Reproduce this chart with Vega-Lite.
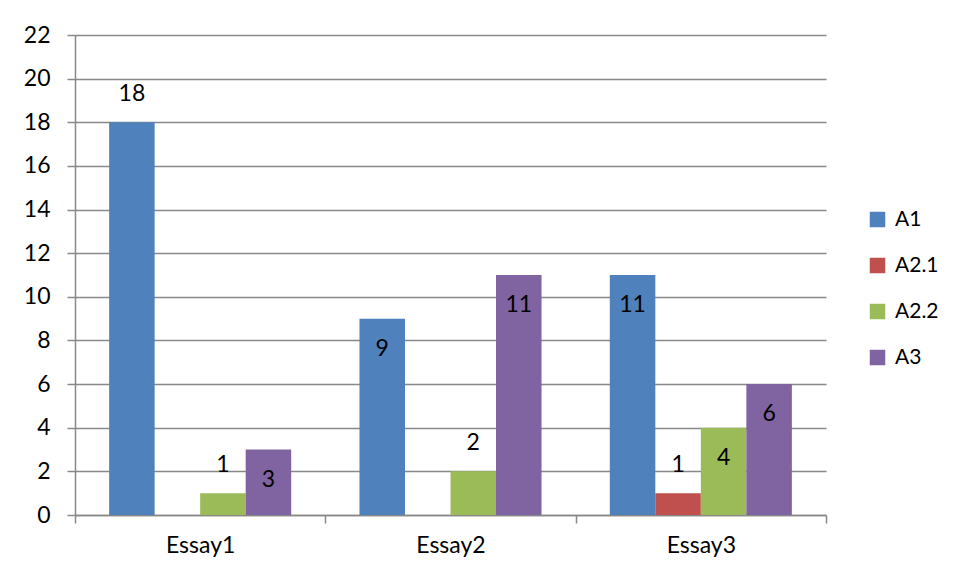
{
  "$schema": "https://vega.github.io/schema/vega-lite/v6.json",
  "width": 751,
  "height": 480,
  "autosize": {"type": "none"},
  "padding": {"left": 75, "top": 35, "right": 129, "bottom": 63},
  "background": "white",
  "data": {
    "values": [
      {"essay": "Essay1", "series": "A1", "value": 18},
      {"essay": "Essay1", "series": "A2.2", "value": 1},
      {"essay": "Essay1", "series": "A3", "value": 3},
      {"essay": "Essay2", "series": "A1", "value": 9},
      {"essay": "Essay2", "series": "A2.2", "value": 2},
      {"essay": "Essay2", "series": "A3", "value": 11},
      {"essay": "Essay3", "series": "A1", "value": 11},
      {"essay": "Essay3", "series": "A2.1", "value": 1},
      {"essay": "Essay3", "series": "A2.2", "value": 4},
      {"essay": "Essay3", "series": "A3", "value": 6}
    ]
  },
  "encoding": {
    "x": {
      "field": "essay",
      "type": "nominal",
      "scale": {"paddingInner": 0, "paddingOuter": 0},
      "axis": {
        "title": null,
        "labelAngle": 0,
        "labelFont": "Lato",
        "labelFontSize": 23,
        "labelColor": "#000000",
        "labelPadding": 11,
        "domainColor": "#888888",
        "domainWidth": 1.5,
        "tickColor": "#888888",
        "tickWidth": 1.5,
        "tickSize": 8,
        "tickBand": "extent",
        "grid": false
      }
    },
    "xOffset": {
      "field": "series",
      "type": "nominal",
      "scale": {"domain": ["A1", "A2.1", "A2.2", "A3"], "paddingInner": 0, "paddingOuter": 0.75}
    },
    "y": {
      "field": "value",
      "type": "quantitative",
      "scale": {"domain": [0, 22], "nice": false},
      "axis": {
        "title": null,
        "values": [0, 2, 4, 6, 8, 10, 12, 14, 16, 18, 20, 22],
        "labelFont": "Lato",
        "labelFontSize": 23,
        "labelColor": "#000000",
        "labelPadding": 17,
        "domainColor": "#888888",
        "domainWidth": 1.5,
        "tickColor": "#888888",
        "tickWidth": 1.5,
        "tickSize": 8,
        "grid": true,
        "gridColor": "#888888",
        "gridWidth": 1.5
      }
    }
  },
  "layer": [
    {
      "mark": {"type": "bar"},
      "encoding": {
        "color": {
          "field": "series",
          "type": "nominal",
          "scale": {
            "domain": ["A1", "A2.1", "A2.2", "A3"],
            "range": ["#4F81BD", "#C0504D", "#9BBB59", "#8064A2"]
          },
          "legend": {
            "title": null,
            "orient": "none",
            "legendX": 792,
            "legendY": 174,
            "symbolType": "square",
            "symbolSize": 240,
            "symbolStrokeWidth": 0,
            "symbolOpacity": 1,
            "labelFont": "Lato",
            "labelFontSize": 21,
            "labelColor": "#000000",
            "labelOffset": 7,
            "rowPadding": 24
          }
        }
      }
    },
    {
      "transform": [{"filter": "datum.value <= 2 || datum.value >= 18"}],
      "mark": {"type": "text", "font": "Lato", "fontSize": 23, "color": "#000000", "baseline": "middle", "dy": -28},
      "encoding": {"text": {"field": "value", "type": "quantitative"}}
    },
    {
      "transform": [{"filter": "datum.value > 2 && datum.value < 18"}],
      "mark": {"type": "text", "font": "Lato", "fontSize": 23, "color": "#000000", "baseline": "middle", "dy": 30},
      "encoding": {"text": {"field": "value", "type": "quantitative"}}
    }
  ],
  "config": {"view": {"stroke": null}}
}
